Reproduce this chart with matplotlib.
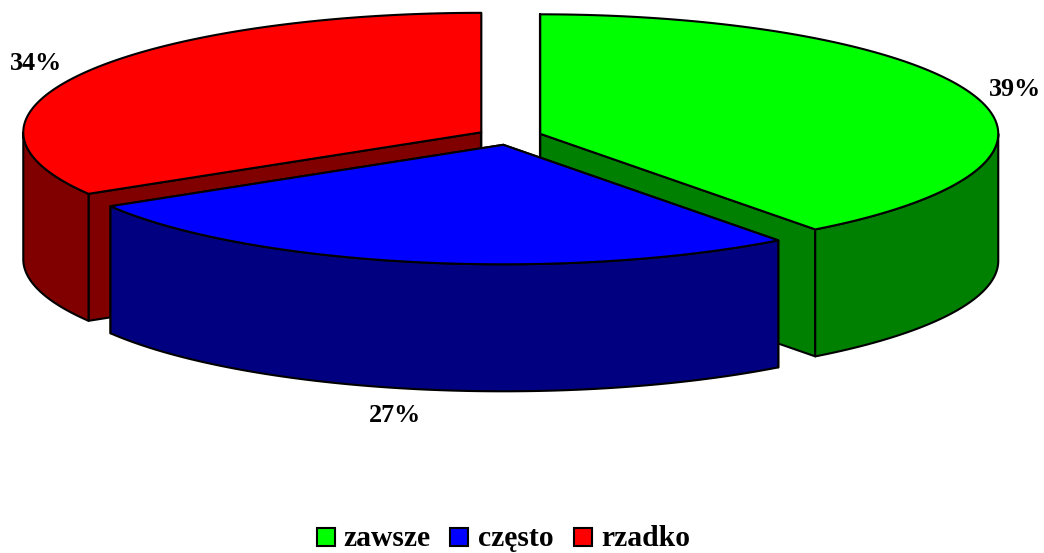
import numpy as np
import matplotlib
matplotlib.use("Agg")
import matplotlib.pyplot as plt
from matplotlib.patches import Polygon, Rectangle

kategorie = ["zawsze", "często", "rzadko"]
wartosci = [39.75, 26.65, 33.6]
etykiety = ["39%", "27%", "34%"]
kolory = ["#00FF00", "#0000FF", "#FF0000"]
kolory_ciemne = ["#008000", "#000080", "#800000"]

# geometria wykresu w pikselach
CX, CY = 509.5, 136.5
RX, RY = 458, 119.5
WYS = 127
EXPLODE = 0.0708
poz_etykiet = [(1015, 89), (395, 416), (36, 64)]
poz_legendy = [(317, 343), (450, 478), (574, 601)]

plt.rcParams["font.family"] = ["Liberation Serif", "DejaVu Serif"]
plt.rcParams["font.weight"] = "bold"

fig = plt.figure(figsize=(10.44, 5.53), dpi=100)
ax = fig.add_axes([0, 0, 1, 1])
ax.set_xlim(0, 1044)
ax.set_ylim(553, 0)
ax.axis("off")


def punkt(cx, cy, kat):
    return cx + RX * np.sin(kat), cy - RY * np.cos(kat)


def rysuj_wycinek(start, koniec, kolor, ciemny, z):
    srodek = (start + koniec) / 2
    cx = CX + EXPLODE * RX * np.sin(srodek)
    cy = CY - EXPLODE * RY * np.cos(srodek)
    styl = dict(edgecolor="black", linewidth=1.5, joinstyle="round", zorder=z)

    # sciany wewnetrzne
    for kat in (start, koniec):
        x, y = punkt(cx, cy, kat)
        ax.add_patch(Polygon([(cx, cy), (x, y), (x, y + WYS), (cx, cy + WYS)],
                             facecolor=ciemny, **styl))

    # sciana zewnetrzna, tylko przednia czesc
    a = max(start, np.pi / 2)
    b = min(koniec, 3 * np.pi / 2)
    if b > a:
        t = np.linspace(a, b, 150)
        x, y = punkt(cx, cy, t)
        xy = np.r_[np.c_[x, y], np.c_[x, y + WYS][::-1]]
        ax.add_patch(Polygon(xy, facecolor=ciemny, **styl))

    # gora
    t = np.linspace(start, koniec, 300)
    x, y = punkt(cx, cy, t)
    xy = np.r_[[(cx, cy)], np.c_[x, y]]
    ax.add_patch(Polygon(xy, facecolor=kolor, **styl))


katy = np.r_[0, np.cumsum(wartosci)] / 100 * 2 * np.pi
for i in [2, 0, 1]:
    rysuj_wycinek(katy[i], katy[i + 1], kolory[i], kolory_ciemne[i], 2 + i if i != 1 else 5)

for i in range(3):
    ax.text(poz_etykiet[i][0], poz_etykiet[i][1], etykiety[i], fontsize=18.8,
            ha="center", va="center", color="black")

    x_kw, x_tekst = poz_legendy[i]
    ax.add_patch(Rectangle((x_kw, 527.5), 18, 18, facecolor=kolory[i],
                           edgecolor="black", linewidth=1.5))
    ax.text(x_tekst, 546, kategorie[i], fontsize=21.3, ha="left", va="baseline",
            color="black")

fig.savefig("out.png", dpi=100, facecolor="white")
